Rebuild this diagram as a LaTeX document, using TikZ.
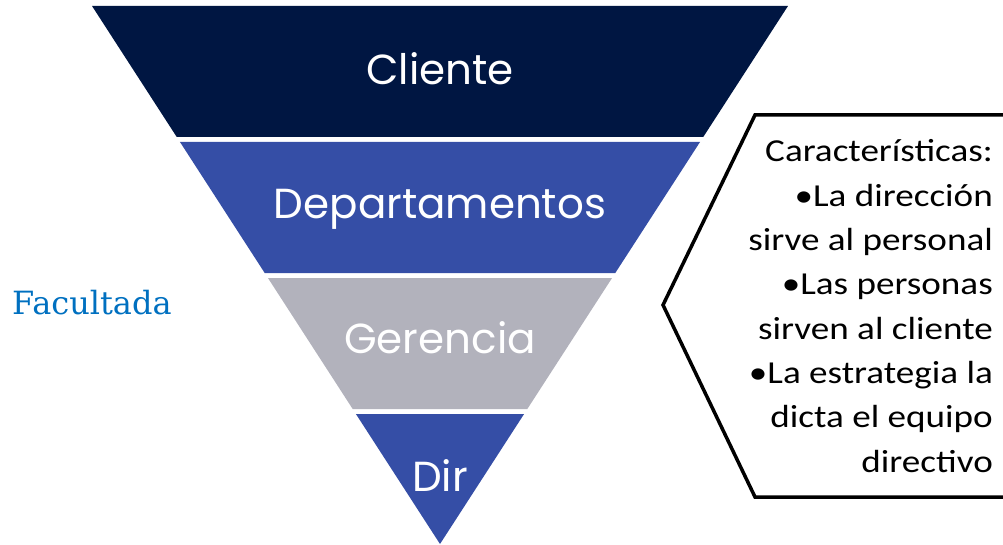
\documentclass[tikz,border=0pt]{standalone}
\usepackage{fontspec}
\setmainfont{Carlito}
\newfontfamily\gothicfont{Poppins}
\newfontfamily\facfont{DejaVu Serif}
\definecolor{navy}{RGB}{0,22,66}
\definecolor{azul}{RGB}{53,78,166}
\definecolor{gris}{RGB}{178,178,188}
\definecolor{facblue}{RGB}{0,112,192}
\begin{document}
\begin{tikzpicture}[x=1pt,y=-1pt]
      \useasboundingbox (0,0) rectangle (1003,545);

      \begin{scope}
        \foreach \t/\b/\c in {6/137/navy,142/273/azul,278/409/gris,414/544/azul}
          \fill[\c] ({440-0.6468*(544-\t)},\t) -- ({440+0.6468*(544-\t)},\t)
            -- ({440+0.6468*(544-\b)},\b) -- ({440-0.6468*(544-\b)},\b) -- cycle;
      \end{scope}

      \begin{scope}[every node/.style={anchor=base, text=white, inner sep=0pt,
          font=\gothicfont\fontsize{42}{42}\selectfont}]
        \node (cli) at (440,85)  {Cliente};
        \node (dep) at (440,219) {Departamentos};
        \node (ger) at (440,353) {Gerencia};
        \node (dir) at (440,491) {Dir};
      \end{scope}

      \node[anchor=base west, text=facblue, inner sep=0pt,
        font=\facfont\fontsize{32}{32}\selectfont] (fac) at (12,314) {Facultada};

      \node[anchor=base east, inner sep=0pt,
        font=\fontsize{32}{44.3}\selectfont] (car) at (993,472)
        {\scalebox{1.16}[1]{\begin{tabular}[b]{@{}r@{}}
          Características:\\•La dirección\\sirve al personal\\•Las personas\\
          sirven al cliente\\•La estrategia la\\dicta el equipo\\directivo
        \end{tabular}}};

      \draw[line width=3.5pt] (1006,115) -- (755,115) -- (663,305) -- (755,497) -- (1006,497);

    \end{tikzpicture}
\end{document}
